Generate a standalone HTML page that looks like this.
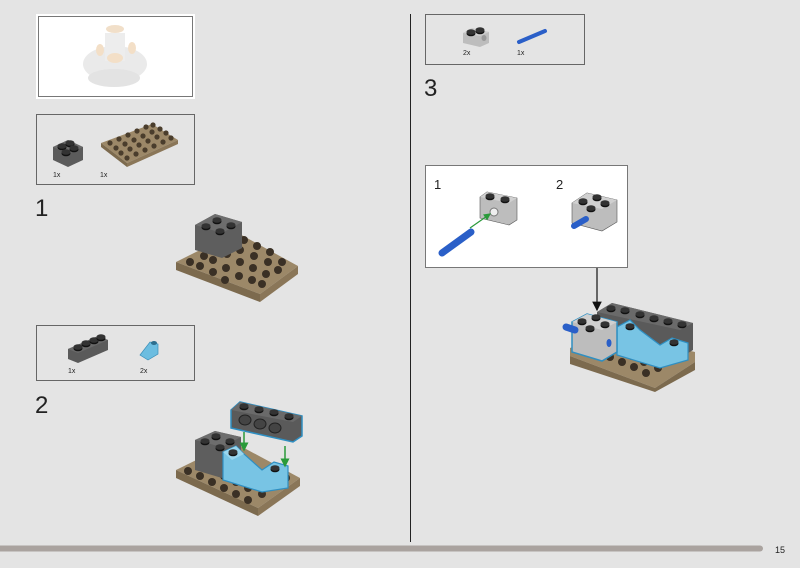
<!DOCTYPE html>
<html><head><meta charset="utf-8"><style>
html,body{margin:0;padding:0;background:#e4e4e4;}
svg{display:block}
text{font-family:"Liberation Sans",sans-serif;fill:#222}
</style></head><body>
<svg width="800" height="568" viewBox="0 0 800 568" xmlns="http://www.w3.org/2000/svg">
<defs>
<marker id="ga" markerWidth="6" markerHeight="6" refX="5" refY="3" orient="auto"><path d="M0,0L6,3L0,6z" fill="#2a9a3a"/></marker>
<marker id="ba" markerWidth="8" markerHeight="8" refX="7" refY="4" orient="auto"><path d="M0,0L8,4L0,8z" fill="#111"/></marker>
<g id="stud"><ellipse cx="0" cy="1.5" rx="4.5" ry="2.8" fill="#111"/><ellipse cx="0" cy="0" rx="4.5" ry="2.8" fill="#333"/></g>
</defs>
<rect width="800" height="568" fill="#e4e4e4"/>

<!-- top image box -->
<rect x="36" y="14" width="159" height="85" fill="#fff"/>
<rect x="38.5" y="16.5" width="154" height="80" fill="#fff" stroke="#777" stroke-width="1"/>
<g opacity="0.9">
<ellipse cx="115" cy="64" rx="32" ry="18" fill="#e8e8e8"/>
<rect x="105" y="33" width="20" height="28" fill="#ececec"/>
<ellipse cx="115" cy="29" rx="9" ry="4" fill="#f0dcc4"/>
<ellipse cx="100" cy="50" rx="4" ry="6" fill="#f2dcc2"/>
<ellipse cx="132" cy="48" rx="4" ry="6" fill="#f2dcc2"/>
<ellipse cx="115" cy="58" rx="8" ry="5" fill="#f2dcc2"/>
<ellipse cx="114" cy="78" rx="26" ry="9" fill="#e0e0e0"/>
</g>

<!-- parts box 1 -->
<rect x="36.5" y="114.5" width="158" height="70" fill="none" stroke="#666"/>
<polygon points="53,147 68,140 83,147 83,160 68,167 53,160" fill="#5b5b5b"/>
<polygon points="53,147 68,140 83,147 68,154" fill="#6a6a6a"/>
<use href="#stud" x="62" y="146"/><use href="#stud" x="70" y="143"/><use href="#stud" x="66" y="152"/><use href="#stud" x="74" y="148"/>
<polygon points="101,143 152,124 178,140 127,163" fill="#9c8868"/>
<polygon points="101,143 127,163 127,167 101,147" fill="#7c6a4e"/>
<polygon points="127,163 178,140 178,144 127,167" fill="#8a7658"/>
<g fill="#4a3d2c">
<circle cx="110" cy="143" r="2.6"/><circle cx="119" cy="139" r="2.6"/><circle cx="128" cy="135" r="2.6"/><circle cx="137" cy="131" r="2.6"/><circle cx="146" cy="127" r="2.6"/><circle cx="153" cy="125" r="2.6"/>
<circle cx="116" cy="148" r="2.6"/><circle cx="125" cy="144" r="2.6"/><circle cx="134" cy="140" r="2.6"/><circle cx="143" cy="136" r="2.6"/><circle cx="152" cy="132" r="2.6"/><circle cx="160" cy="129" r="2.6"/>
<circle cx="121" cy="153" r="2.6"/><circle cx="130" cy="149" r="2.6"/><circle cx="139" cy="145" r="2.6"/><circle cx="148" cy="141" r="2.6"/><circle cx="157" cy="137" r="2.6"/><circle cx="166" cy="133" r="2.6"/>
<circle cx="127" cy="158" r="2.6"/><circle cx="136" cy="154" r="2.6"/><circle cx="145" cy="150" r="2.6"/><circle cx="154" cy="146" r="2.6"/><circle cx="163" cy="142" r="2.6"/><circle cx="171" cy="138" r="2.6"/>
</g>
<text x="53" y="177" font-size="7">1x</text><text x="100" y="177" font-size="7">1x</text>
<text x="35" y="216" font-size="24" font-weight="300">1</text>

<!-- model 1 -->
<polygon points="176,262 236,232 298,266 260,294" fill="#9c8868"/>
<polygon points="176,262 260,294 260,302 176,270" fill="#7c6a4e"/>
<polygon points="260,294 298,266 298,274 260,302" fill="#8a7658"/>
<g fill="#3a3025">
<circle cx="190" cy="262" r="4"/><circle cx="204" cy="256" r="4"/><circle cx="244" cy="240" r="4"/><circle cx="257" cy="246" r="4"/><circle cx="270" cy="252" r="4"/>
<circle cx="200" cy="266" r="4"/><circle cx="213" cy="260" r="4"/><circle cx="227" cy="254" r="4"/><circle cx="240" cy="250" r="4"/><circle cx="254" cy="256" r="4"/><circle cx="268" cy="262" r="4"/><circle cx="282" cy="262" r="4"/>
<circle cx="213" cy="272" r="4"/><circle cx="226" cy="268" r="4"/><circle cx="240" cy="262" r="4"/><circle cx="253" cy="268" r="4"/><circle cx="266" cy="274" r="4"/><circle cx="278" cy="270" r="4"/>
<circle cx="225" cy="280" r="4"/><circle cx="239" cy="276" r="4"/><circle cx="252" cy="280" r="4"/><circle cx="262" cy="284" r="4"/>
</g>
<polygon points="195,225 215,214 242,222 242,248 222,258 195,250" fill="#5e5e5e"/>
<polygon points="195,225 215,214 242,222 222,233" fill="#6d6d6d"/>
<use href="#stud" x="206" y="226"/><use href="#stud" x="217" y="220"/><use href="#stud" x="220" y="231"/><use href="#stud" x="231" y="225"/>

<!-- parts box 2 -->
<rect x="36.5" y="325.5" width="158" height="55" fill="none" stroke="#666"/>
<polygon points="68,349 98,336 108,340 108,350 78,363 68,359" fill="#5a5a5a"/>
<polygon points="68,349 98,336 108,340 78,353" fill="#6a6a6a"/>
<use href="#stud" x="78" y="347"/><use href="#stud" x="86" y="343"/><use href="#stud" x="94" y="340"/><use href="#stud" x="101" y="337"/>
<polygon points="140,355 150,342 158,344 158,354 148,360" fill="#6cbde0" stroke="#3b8fb8" stroke-width="0.7"/>
<ellipse cx="154" cy="343" rx="3" ry="2" fill="#2d6e8e"/>
<text x="68" y="373" font-size="7">1x</text><text x="140" y="373" font-size="7">2x</text>
<text x="35" y="413" font-size="24" font-weight="300">2</text>

<!-- model 2 -->
<polygon points="176,470 233,442 300,478 258,508" fill="#9c8868"/>
<polygon points="176,470 258,508 258,516 176,478" fill="#7c6a4e"/>
<polygon points="258,508 300,478 300,486 258,516" fill="#8a7658"/>
<g fill="#3a3025">
<circle cx="188" cy="471" r="4"/><circle cx="200" cy="476" r="4"/><circle cx="212" cy="482" r="4"/><circle cx="224" cy="488" r="4"/><circle cx="236" cy="494" r="4"/><circle cx="248" cy="500" r="4"/>
<circle cx="200" cy="464" r="4"/><circle cx="212" cy="470" r="4"/><circle cx="224" cy="476" r="4"/><circle cx="236" cy="482" r="4"/><circle cx="248" cy="488" r="4"/><circle cx="262" cy="494" r="4"/>
<circle cx="275" cy="486" r="4"/><circle cx="286" cy="478" r="4"/>
</g>
<polygon points="195,440 215,431 241,437 241,468 222,478 195,470" fill="#5e5e5e"/>
<polygon points="195,440 215,431 241,437 222,447" fill="#6d6d6d"/>
<use href="#stud" x="205" y="441"/><use href="#stud" x="216" y="436"/><use href="#stud" x="220" y="447"/><use href="#stud" x="230" y="441"/>
<polygon points="223,452 236,446 244,454 262,470 274,462 288,466 288,488 262,492 223,480" fill="#78c4e4" stroke="#2f8fc2" stroke-width="1.2"/>
<polygon points="223,452 236,446 244,454 232,460" fill="#9ad6ee"/>
<use href="#stud" x="233" y="452"/><use href="#stud" x="275" y="468"/>
<line x1="244" y1="432" x2="244" y2="450" stroke="#2a9a3a" stroke-width="1.5" marker-end="url(#ga)"/>
<line x1="285" y1="446" x2="285" y2="466" stroke="#2a9a3a" stroke-width="1.5" marker-end="url(#ga)"/>
<polygon points="231,410 240,402 302,416 302,436 293,442 231,428" fill="#5a5a5a" stroke="#2f8fc2" stroke-width="1.5"/>
<polygon points="231,410 240,402 302,416 293,422" fill="#6a6a6a"/>
<use href="#stud" x="244" y="406"/><use href="#stud" x="259" y="409"/><use href="#stud" x="274" y="412"/><use href="#stud" x="289" y="416"/>
<ellipse cx="245" cy="420" rx="6" ry="5" fill="#444" stroke="#222"/><ellipse cx="260" cy="424" rx="6" ry="5" fill="#444" stroke="#222"/><ellipse cx="275" cy="428" rx="6" ry="5" fill="#444" stroke="#222"/>

<!-- divider -->
<line x1="410.5" y1="14" x2="410.5" y2="542" stroke="#222" stroke-width="1"/>

<!-- parts box 3 -->
<rect x="425.5" y="14.5" width="159" height="50" fill="none" stroke="#666"/>
<polygon points="463,33 472,28 489,32 489,43 480,47 463,43" fill="#bdbdbd"/>
<polygon points="463,33 472,28 489,32 480,36" fill="#cfcfcf"/>
<use href="#stud" x="471" y="32"/><use href="#stud" x="480" y="30"/>
<ellipse cx="484" cy="38" rx="2.5" ry="3" fill="#999"/>
<line x1="519" y1="42" x2="545" y2="31" stroke="#2a5fc8" stroke-width="4" stroke-linecap="round"/>
<text x="463" y="55" font-size="7">2x</text><text x="517" y="55" font-size="7">1x</text>
<text x="424" y="96" font-size="24" font-weight="300">3</text>

<!-- callout -->
<rect x="425.5" y="165.5" width="202" height="102" fill="#fff" stroke="#777"/>
<text x="434" y="189" font-size="13">1</text><text x="556" y="189" font-size="13">2</text>
<polygon points="480,197 487,192 517,198 517,220 509,225 480,218" fill="#bdbdbd" stroke="#555" stroke-width="0.6"/>
<polygon points="480,197 487,192 517,198 509,203" fill="#d0d0d0"/>
<use href="#stud" x="490" y="196"/><use href="#stud" x="505" y="199"/>
<ellipse cx="494" cy="212" rx="4" ry="4" fill="#eee" stroke="#777"/>
<line x1="470" y1="228" x2="490" y2="214" stroke="#2a9a3a" stroke-width="1.2" marker-end="url(#ga)"/>
<line x1="442" y1="253" x2="471" y2="232" stroke="#2a5fc8" stroke-width="7" stroke-linecap="round"/>
<polygon points="572,203 587,193 617,200 617,222 602,231 572,223" fill="#bdbdbd" stroke="#555" stroke-width="0.6"/>
<polygon points="572,203 587,193 617,200 602,209" fill="#d0d0d0"/>
<use href="#stud" x="583" y="201"/><use href="#stud" x="597" y="197"/><use href="#stud" x="591" y="208"/><use href="#stud" x="605" y="203"/>
<line x1="574" y1="226" x2="586" y2="219" stroke="#2a5fc8" stroke-width="6" stroke-linecap="round"/>

<line x1="597" y1="268" x2="597" y2="310" stroke="#111" stroke-width="1.2" marker-end="url(#ba)"/>

<!-- model 3 -->
<polygon points="570,348 610,332 695,352 695,362 655,388 570,356" fill="#9c8868"/>
<polygon points="570,356 655,388 695,362 695,370 655,392 570,364" fill="#7c6a4e"/>
<g fill="#3a3025"><circle cx="610" cy="357" r="4"/><circle cx="622" cy="362" r="4"/><circle cx="634" cy="367" r="4"/><circle cx="646" cy="373" r="4"/><circle cx="620" cy="350" r="4"/><circle cx="632" cy="356" r="4"/><circle cx="644" cy="362" r="4"/><circle cx="658" cy="368" r="4"/></g>
<polygon points="597,312 612,303 693,323 693,350 680,358 597,335" fill="#5a5a5a"/>
<polygon points="597,312 612,303 693,323 680,330" fill="#6a6a6a"/>
<use href="#stud" x="611" y="308"/><use href="#stud" x="625" y="310"/><use href="#stud" x="640" y="314"/><use href="#stud" x="654" y="318"/><use href="#stud" x="668" y="321"/><use href="#stud" x="682" y="324"/>
<polygon points="617,327 630,320 640,330 660,345 672,338 688,343 688,360 660,368 617,355" fill="#78c4e4" stroke="#2f8fc2" stroke-width="1.2"/>
<use href="#stud" x="630" y="326"/><use href="#stud" x="674" y="342"/>
<polygon points="572,322 587,314 617,322 617,352 602,361 572,352" fill="#bdbdbd" stroke="#2f8fc2" stroke-width="1.5"/>
<polygon points="572,322 587,314 617,322 602,330" fill="#d0d0d0"/>
<use href="#stud" x="582" y="321"/><use href="#stud" x="596" y="317"/><use href="#stud" x="590" y="328"/><use href="#stud" x="605" y="324"/>
<ellipse cx="609" cy="343" rx="2.5" ry="4" fill="#2a5fc8"/>
<line x1="566" y1="327" x2="575" y2="330" stroke="#2a5fc8" stroke-width="7" stroke-linecap="round"/>

<!-- footer -->
<line x1="0" y1="548.5" x2="760" y2="548.5" stroke="#aaa39f" stroke-width="6" stroke-linecap="round"/>
<text x="775" y="553" font-size="9" fill="#333">15</text>
</svg>
</body></html>
